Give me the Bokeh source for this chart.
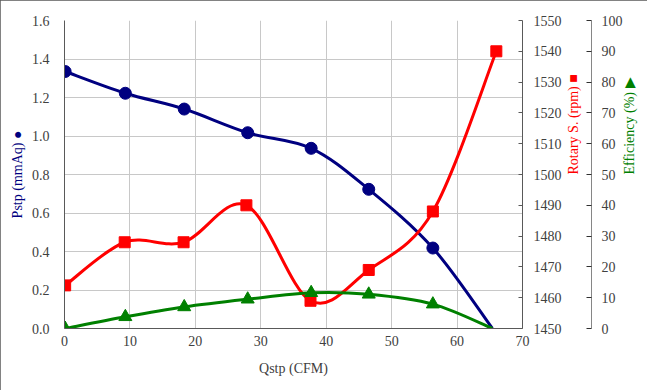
import math
from bokeh.plotting import figure
from bokeh.models import Range1d, LinearAxis, FixedTicker, NumeralTickFormatter
from bokeh.embed import file_html
from bokeh.resources import INLINE

# ---- data ----
q_cfm = [0.1, 9.3, 18.3, 28.0, 37.7, 46.5, 56.3, 65.4]
q_cfm_rpm = [0.1, 9.2, 18.2, 27.8, 37.6, 46.5, 56.3, 66.0]
pstp_mmaq = [1.335, 1.222, 1.140, 1.017, 0.936, 0.723, 0.418, 0.0]
rotary_rpm = [1464, 1478, 1478, 1490, 1459, 1469, 1488, 1540]
efficiency_pct = [0.0, 3.8, 7.0, 9.5, 11.6, 11.1, 7.9, 0.0]

x_ticks = [0, 10, 20, 30, 40, 50, 60, 70]
pstp_ticks = [0.0, 0.2, 0.4, 0.6, 0.8, 1.0, 1.2, 1.4, 1.6]
rpm_ticks = [1450, 1460, 1470, 1480, 1490, 1500, 1510, 1520, 1530, 1540, 1550]
eff_ticks = [0, 10, 20, 30, 40, 50, 60, 70, 80, 90, 100]

FONT = "Liberation Serif"
TICK_COLOR = "#404040"
NAVY = "#000080"
RED = "#FF0000"
GREEN = "#008000"


def smooth_segments(xs, ys):
    """Excel-like smoothed line: cubic Bezier segments (Catmull-Rom control points)."""
    n = len(xs)
    seg = dict(x0=[], y0=[], x1=[], y1=[], cx0=[], cy0=[], cx1=[], cy1=[])
    for i in range(n - 1):
        xp, yp = (xs[i - 1], ys[i - 1]) if i > 0 else (xs[i], ys[i])
        xn, yn = (xs[i + 2], ys[i + 2]) if i + 2 < n else (xs[i + 1], ys[i + 1])
        seg["x0"].append(xs[i]); seg["y0"].append(ys[i])
        seg["x1"].append(xs[i + 1]); seg["y1"].append(ys[i + 1])
        seg["cx0"].append(xs[i] + (xs[i + 1] - xp) / 6.0)
        seg["cy0"].append(ys[i] + (ys[i + 1] - yp) / 6.0)
        seg["cx1"].append(xs[i + 1] - (xn - xs[i]) / 6.0)
        seg["cy1"].append(ys[i + 1] - (yn - ys[i]) / 6.0)
    return seg


p = figure(width=647, height=390, output_backend="svg", toolbar_location=None,
           x_range=Range1d(0, 70), y_range=Range1d(0, 1.6),
           min_border_left=64, min_border_right=125, min_border_top=20, min_border_bottom=62)
p.background_fill_color = "white"
p.border_fill_color = "white"
p.outline_line_color = None
p.styles = {"outline": "1px solid #595959", "outline-offset": "-1px"}

p.extra_y_ranges = {"rpm": Range1d(1450, 1550), "eff": Range1d(0, 100)}


def style_axis(ax, line_color, standoff):
    ax.axis_line_color = line_color
    ax.axis_line_width = 1
    ax.major_tick_out = 0
    ax.minor_tick_out = 0
    ax.minor_tick_in = 0
    ax.minor_tick_line_color = None
    ax.major_label_standoff = standoff
    ax.major_label_text_font = FONT
    ax.major_label_text_font_size = "14px"
    ax.major_label_text_color = TICK_COLOR
    ax.axis_label_text_font = FONT
    ax.axis_label_text_font_size = "14px"
    ax.axis_label_text_font_style = "normal"


xa = p.xaxis[0]
style_axis(xa, "#595959", 7)
xa.major_tick_in = 0
xa.ticker = FixedTicker(ticks=x_ticks)
xa.axis_label = "Qstp (CFM)"
xa.axis_label_text_color = TICK_COLOR
xa.axis_label_standoff = 12

ya = p.yaxis[0]
style_axis(ya, "#595959", 15)
ya.major_tick_in = 0
ya.ticker = FixedTicker(ticks=pstp_ticks)
ya.formatter = NumeralTickFormatter(format="0.0")
ya.axis_label = "Pstp (mmAq) \u25cf"
ya.axis_label_text_color = NAVY
ya.axis_label_standoff = 4

p.xgrid.grid_line_color = "#c8c8c8"
p.ygrid.grid_line_color = "#c8c8c8"

# right axes
rpm_axis = LinearAxis(y_range_name="rpm", ticker=FixedTicker(ticks=rpm_ticks))
style_axis(rpm_axis, "#595959", 11)
rpm_axis.major_tick_in = 4
rpm_axis.major_tick_line_color = "#595959"
rpm_axis.axis_label = "Rotary S. (rpm) \u25a0"
rpm_axis.axis_label_text_color = RED
rpm_axis.axis_label_orientation = math.pi / 2
rpm_axis.axis_label_standoff = 9
p.add_layout(rpm_axis, "right")

eff_axis = LinearAxis(y_range_name="eff", ticker=FixedTicker(ticks=eff_ticks))
style_axis(eff_axis, "#868686", 10)
eff_axis.major_tick_in = 5
eff_axis.major_tick_line_color = "#303030"
eff_axis.axis_label = "Efficiency (%) \u25b6"
eff_axis.axis_label_text_color = GREEN
eff_axis.axis_label_orientation = math.pi / 2
eff_axis.axis_label_standoff = 4
p.add_layout(eff_axis, "right")

# series
s = smooth_segments(q_cfm, pstp_mmaq)
p.bezier(x0=s["x0"], y0=s["y0"], x1=s["x1"], y1=s["y1"], cx0=s["cx0"], cy0=s["cy0"],
         cx1=s["cx1"], cy1=s["cy1"], line_color=NAVY, line_width=3)
p.scatter(q_cfm[:-1], pstp_mmaq[:-1], marker="circle", size=12, fill_color=NAVY, line_color=NAVY)

s = smooth_segments(q_cfm_rpm, rotary_rpm)
p.bezier(x0=s["x0"], y0=s["y0"], x1=s["x1"], y1=s["y1"], cx0=s["cx0"], cy0=s["cy0"],
         cx1=s["cx1"], cy1=s["cy1"], line_color=RED, line_width=3, y_range_name="rpm")
p.scatter(q_cfm_rpm, rotary_rpm, marker="square", size=11, fill_color=RED, line_color=RED,
          y_range_name="rpm")

s = smooth_segments(q_cfm, efficiency_pct)
p.bezier(x0=s["x0"], y0=s["y0"], x1=s["x1"], y1=s["y1"], cx0=s["cx0"], cy0=s["cy0"],
         cx1=s["cx1"], cy1=s["cy1"], line_color=GREEN, line_width=3, y_range_name="eff")
p.scatter(q_cfm[:-1], efficiency_pct[:-1], marker="triangle", size=13, fill_color=GREEN,
          line_color=GREEN, y_range_name="eff")

open("out.html", "w").write(file_html(p, INLINE))
